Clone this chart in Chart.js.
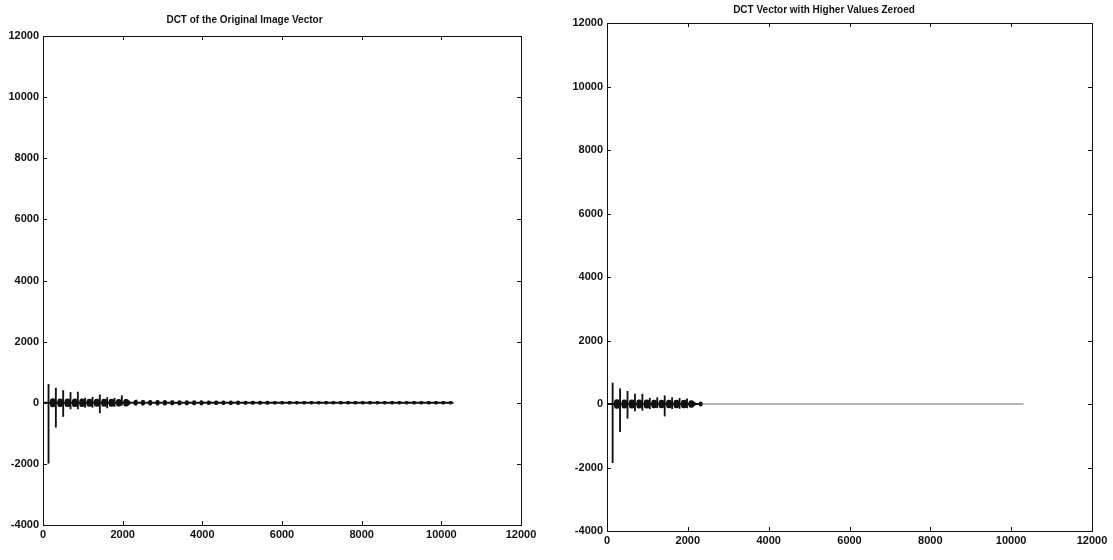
<!DOCTYPE html>
<html>
<head>
<meta charset="utf-8">
<script src="https://cdn.jsdelivr.net/npm/chart.js@4/dist/chart.umd.min.js"></script>
<style>
  html, body { margin: 0; padding: 0; background: #fff; }
  #wrap { position: relative; width: 1113px; height: 560px; background: #fff; }
  .box { position: absolute; top: 0; height: 560px; }
  #leftBox { left: 0; width: 556px; }
  #rightBox { left: 556px; width: 557px; }
</style>
</head>
<body>
<div id="wrap">
  <div class="box" id="leftBox"><canvas id="leftChart"></canvas></div>
  <div class="box" id="rightBox"><canvas id="rightChart"></canvas></div>
</div>
<script>
// ---------------- DATA ----------------
const titles = ["DCT of the Original Image Vector", "DCT Vector with Higher Values Zeroed"];
const xTickValues = [0, 2000, 4000, 6000, 8000, 10000, 12000];
const yTickValues = [-4000, -2000, 0, 2000, 4000, 6000, 8000, 10000, 12000];
const vectorLength = 10304;

// DC coefficient (sits on the left axis)
const dcIndex = 8;
const leftDcHigh = 11400, leftDcLow = -600;
const rightDcHigh = 11400, rightDcLow = -1900;

// Positions of the periodic coefficient bursts
const burstPositions = [184, 368, 552, 736, 920, 1104, 1288, 1472, 1656, 1840, 2024, 2208,
  2392, 2576, 2760, 2944, 3128, 3312, 3496, 3680, 3864, 4048, 4232, 4416, 4600, 4784,
  4968, 5152, 5336, 5520, 5704, 5888, 6072, 6256, 6440, 6624, 6808, 6992, 7176, 7360,
  7544, 7728, 7912, 8096, 8280, 8464, 8648, 8832, 9016, 9200, 9384, 9568, 9752, 9936, 10120];

// Original vector: burst peak highs, lows and core half-heights
const leftHighs = [600, 480, 400, 340, 350, 150, 180, 260, 170, 150, 230, 60,
  90, 70, 60, 60, 50, 60, 50, 40, 50, 40, 40, 50, 30, 40,
  30, 30, 40, 30, 30, 30, 30, 30, 20, 30, 20, 20, 30, 20,
  20, 30, 20, 20, 20, 20, 20, 20, 20, 20, 20, 20, 20, 20, 20];
const leftLows = [-1980, -800, -450, -200, -200, -150, -150, -330, -170, -120, -80, -60,
  -70, -60, -60, -50, -50, -60, -40, -40, -40, -30, -30, -40, -30, -30,
  -30, -30, -30, -30, -20, -20, -20, -20, -20, -20, -20, -20, -20, -20,
  -20, -20, -20, -20, -20, -20, -20, -20, -20, -20, -20, -20, -20, -20, -20];
const leftCores = [140, 130, 130, 130, 130, 120, 120, 120, 120, 110, 110, 80,
  80, 80, 80, 80, 75, 75, 70, 70, 70, 60, 60, 60, 60, 60,
  55, 55, 55, 55, 50, 50, 45, 45, 45, 45, 45, 45, 45, 45,
  45, 45, 45, 45, 45, 45, 45, 45, 45, 45, 45, 45, 45, 45, 45];
const leftMainBursts = 11;

// Zeroed vector: only the first bursts survive
const rightHighs = [660, 480, 400, 310, 310, 180, 200, 260, 200, 180, 160, 60];
const rightLows = [-1850, -870, -450, -220, -200, -150, -120, -380, -150, -140, -120, -50];
const rightCores = [140, 130, 130, 130, 130, 120, 120, 120, 120, 120, 110, 70];
const rightMainBursts = 11;
const zeroedFrom = 2300;

// ---------------- helpers ----------------
const FAMILY = "'Liberation Sans', Arial, Helvetica, sans-serif";
const TICK_FONT = { family: FAMILY, size: 11, weight: 'bold' };
const TITLE_FONT = { family: FAMILY, size: 10, weight: 'bold' };
const INK = '#111';

function spikes(positions, highs, lows) {
  return positions.slice(0, highs.length).map((x, i) => ({ x: x, y: [lows[i], highs[i]] }));
}
function cores(positions, halfHeights, from, to) {
  const out = [];
  for (let i = from; i < Math.min(to, halfHeights.length); i++) {
    out.push({ x: positions[i], y: [-halfHeights[i], halfHeights[i]] });
  }
  return out;
}

// MATLAB-style box with inward ticks on all four sides
const boxTicks = {
  id: 'boxTicks',
  afterDatasetsDraw(chart) {
    const { ctx, chartArea: a, scales } = chart;
    ctx.save();
    ctx.strokeStyle = INK;
    ctx.lineWidth = 1;
    ctx.strokeRect(Math.round(a.left) + 0.5, Math.round(a.top) + 0.5,
      Math.round(a.right - a.left), Math.round(a.bottom - a.top));
    const len = 4;
    ctx.beginPath();
    scales.x.ticks.forEach(t => {
      const px = Math.round(scales.x.getPixelForValue(t.value)) + 0.5;
      ctx.moveTo(px, a.bottom); ctx.lineTo(px, a.bottom - len);
      ctx.moveTo(px, a.top); ctx.lineTo(px, a.top + len);
    });
    scales.y.ticks.forEach(t => {
      const py = Math.round(scales.y.getPixelForValue(t.value)) + 0.5;
      ctx.moveTo(a.left, py); ctx.lineTo(a.left + len, py);
      ctx.moveTo(a.right, py); ctx.lineTo(a.right - len, py);
    });
    ctx.stroke();
    ctx.restore();
  }
};

// shift the title horizontally (the original has it left of centre)
const titleShift = {
  id: 'titleShift',
  afterLayout(chart, args, opts) {
    const tb = chart.titleBlock;
    if (tb && opts.dx) { tb.left += opts.dx; tb.right += opts.dx; }
  }
};

function buildChart(canvasId, cfg) {
  const datasets = [
    {
      type: 'line', label: 'baseline', data: cfg.baseline,
      borderColor: INK, borderWidth: 2, pointRadius: 0, order: 4
    }
  ];
  if (cfg.tail) {
    datasets.push({
      type: 'line', label: 'zeroed', data: cfg.tail,
      borderColor: '#6a6a6a', borderWidth: 1, pointRadius: 0, order: 4
    });
  }
  datasets.push(
    {
      type: 'bar', label: 'cores', data: cfg.coresMain,
      backgroundColor: INK, borderWidth: 0, barThickness: 5, borderRadius: 2.5,
      borderSkipped: false, order: 2
    },
    {
      type: 'bar', label: 'small cores', data: cfg.coresTail,
      backgroundColor: INK, borderWidth: 0, barThickness: 3, borderRadius: 1.5,
      borderSkipped: false, order: 3
    },
    {
      type: 'bar', label: 'spikes', data: cfg.spikes,
      backgroundColor: INK, borderWidth: 0, barThickness: 1.2, order: 1
    },
    {
      type: 'bar', label: 'dc', data: cfg.dc,
      backgroundColor: '#333', borderWidth: 0, barThickness: 1.2, order: 1
    }
  );
  return new Chart(document.getElementById(canvasId), {
    data: { datasets: datasets },
    options: {
      responsive: false,
      animation: false,
      maintainAspectRatio: false,
      layout: { padding: cfg.padding },
      plugins: {
        legend: { display: false },
        tooltip: { enabled: false },
        title: {
          display: true, text: cfg.title, color: INK, font: TITLE_FONT,
          padding: cfg.titlePadding
        },
        titleShift: { dx: cfg.titleDx }
      },
      scales: {
        x: {
          type: 'linear', min: 0, max: 12000, offset: false,
          afterBuildTicks: s => { s.ticks = xTickValues.map(v => ({ value: v })); },
          grid: { display: false, drawTicks: false },
          border: { display: false },
          ticks: { color: INK, font: TICK_FONT, padding: cfg.xLabelPad, maxRotation: 0, autoSkip: false,
                   callback: v => String(v) },
          afterFit: s => { s.height = cfg.xHeight; s.paddingLeft = 0; s.paddingRight = 0; }
        },
        y: {
          type: 'linear', min: -4000, max: 12000,
          afterBuildTicks: s => { s.ticks = yTickValues.map(v => ({ value: v })); },
          grid: { display: false, drawTicks: false },
          border: { display: false },
          ticks: { color: INK, font: TICK_FONT, padding: 4, autoSkip: false,
                   callback: v => String(v) },
          afterFit: s => { s.width = cfg.yWidth; s.paddingTop = 0; s.paddingBottom = 0; }
        }
      }
    },
    plugins: [boxTicks, titleShift]
  });
}

const lc = document.getElementById('leftChart');
lc.width = 556; lc.height = 560;
const rc = document.getElementById('rightChart');
rc.width = 557; rc.height = 560;

buildChart('leftChart', {
  title: titles[0],
  baseline: [{ x: 0, y: 0 }, { x: vectorLength, y: 0 }],
  tail: null,
  spikes: spikes(burstPositions, leftHighs, leftLows),
  coresMain: cores(burstPositions, leftCores, 0, leftMainBursts),
  coresTail: cores(burstPositions, leftCores, leftMainBursts, leftCores.length),
  dc: [{ x: dcIndex, y: [leftDcLow, leftDcHigh] }],
  padding: { left: 0, right: 35, top: 0, bottom: 15 },
  titlePadding: { top: 14, bottom: 10 },
  titleDx: -16,
  xHeight: 20, xLabelPad: 3, yWidth: 43
});

buildChart('rightChart', {
  title: titles[1],
  baseline: [{ x: 0, y: 0 }, { x: zeroedFrom, y: 0 }],
  tail: [{ x: zeroedFrom, y: 0 }, { x: vectorLength, y: 0 }],
  spikes: spikes(burstPositions, rightHighs, rightLows),
  coresMain: cores(burstPositions, rightCores, 0, rightMainBursts),
  coresTail: cores(burstPositions, rightCores, rightMainBursts, rightCores.length),
  dc: [{ x: dcIndex, y: [rightDcLow, rightDcHigh] }],
  padding: { left: 0, right: 21, top: 0, bottom: 9 },
  titlePadding: { top: 4, bottom: 7 },
  titleDx: 0,
  xHeight: 20, xLabelPad: 3, yWidth: 51
});
</script>
</body>
</html>
